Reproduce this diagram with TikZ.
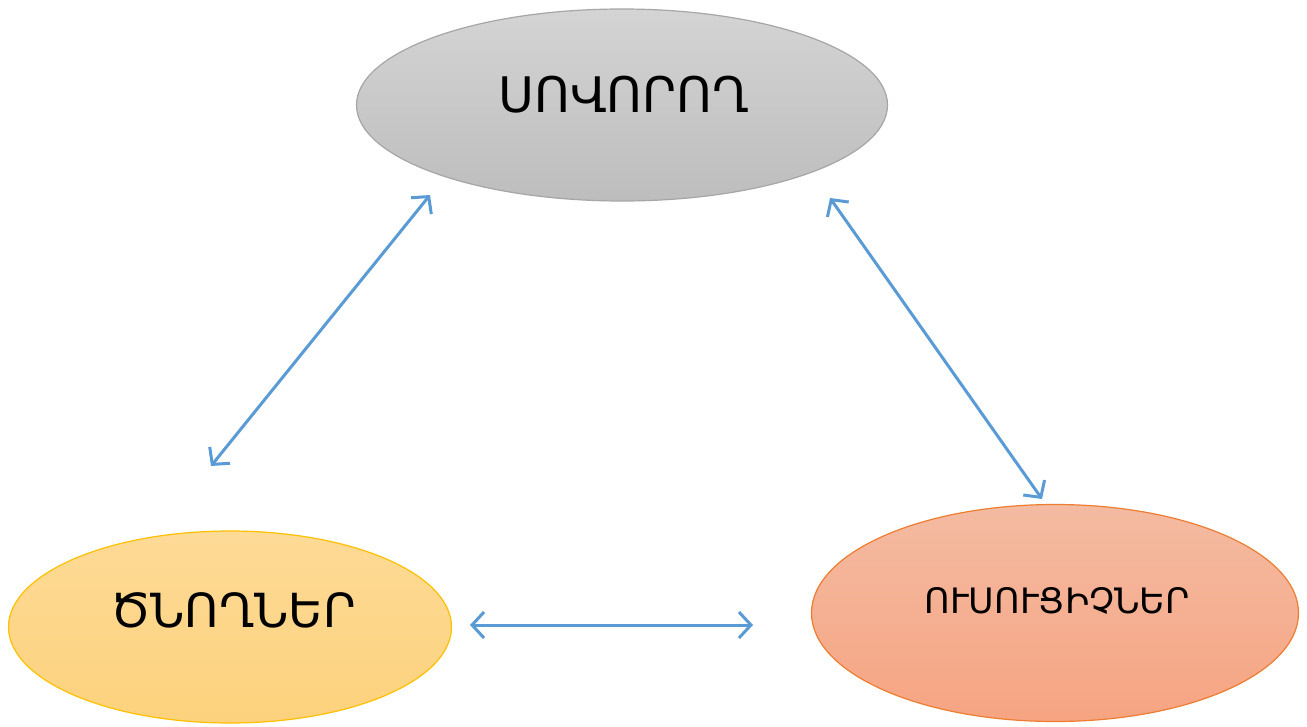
\documentclass[tikz,border=0pt]{standalone}
\usepackage{fontspec}
\setmainfont{DejaVu Sans}
\usetikzlibrary{shapes.geometric,arrows.meta}
\definecolor{arrowblue}{HTML}{5B9BD5}
\tikzset{
  blob/.style={ellipse, line width=1.2pt, inner sep=0pt},
  link/.style={arrowblue, line width=3pt, {Straight Barb[length=12pt,width=26pt,line width=3pt]}-{Straight Barb[length=12pt,width=26pt,line width=3pt]}},
  lbl/.style={inner sep=0pt, text=black}
}
\begin{document}
\begin{tikzpicture}[x=1pt,y=-1pt]
\useasboundingbox (0,0) rectangle (1307,726);
\fill[white] (0,0) rectangle (1307,726);
\node[blob, minimum width=531pt, minimum height=192pt, draw={rgb,255:red,166;green,166;blue,166}, top color={rgb,255:red,212;green,212;blue,212}, bottom color={rgb,255:red,189;green,189;blue,189}] (s) at (622,105) {};
\node[blob, minimum width=443pt, minimum height=192pt, draw={rgb,255:red,255;green,192;blue,0}, top color={rgb,255:red,253;green,218;blue,150}, bottom color={rgb,255:red,253;green,210;blue,125}] (p) at (230,627) {};
\node[blob, minimum width=487pt, minimum height=217pt, draw={rgb,255:red,237;green,125;blue,49}, top color={rgb,255:red,244;green,187;blue,162}, bottom color={rgb,255:red,246;green,164;blue,130}] (t) at (1055,613) {};
\node[lbl, font=\fontsize{49}{49}\selectfont] at (624,95) {ՍՈՎՈՐՈՂ};
\node[lbl, font=\fontsize{47}{47}\selectfont] at (233,610) {ԾՆՈՂՆԵՐ};
\node[lbl, font=\fontsize{35}{35}\selectfont] at (1057,601) {ՈՒՍՈՒՑԻՉՆԵՐ};
\coordinate (a1) at (430,195);
\coordinate (b1) at (211,466);
\coordinate (a2) at (830,198);
\coordinate (b2) at (1042,499);
\coordinate (a3) at (470,625);
\coordinate (b3) at (753,625);
\draw[link] (a1) -- (b1);
\draw[link] (a2) -- (b2);
\draw[link] (a3) -- (b3);
\end{tikzpicture}
\end{document}
